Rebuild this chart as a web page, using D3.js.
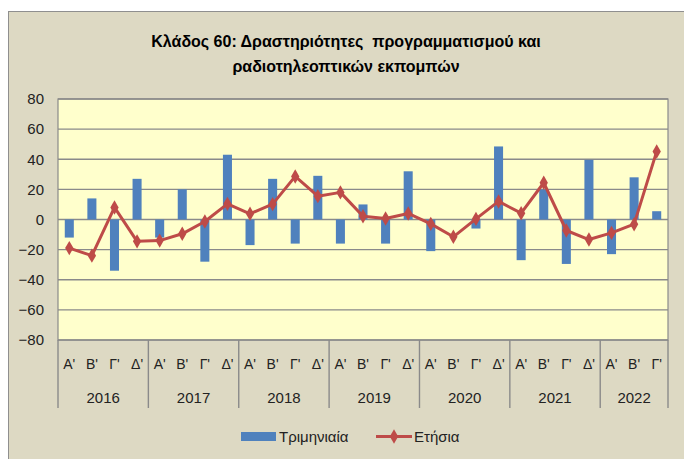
<!DOCTYPE html>
<html>
<head>
<meta charset="utf-8">
<script src="https://cdn.jsdelivr.net/npm/d3@7"></script>
<style>
  body { margin: 0; background: #fff; }
  svg { display: block; font-family: "Liberation Sans", Arial, sans-serif; }
</style>
</head>
<body>
<svg id="chart" width="684" height="459"></svg>
<script>
// Κλάδος 60 - τριμηνιαία και ετήσια μεταβολή (%)
const years = [2016, 2017, 2018, 2019, 2020, 2021, 2022];
const quartersPerYear = [4, 4, 4, 4, 4, 4, 3];
const quarterNames = ["Α'", "Β'", "Γ'", "Δ'"];

const quarterly = [-12, 14, -34, 27, -12, 20, -28, 43, -17, 27, -16, 29,
                   -16, 10, -16, 32, -21, 0, -6, 48.5, -27, 20, -29.5, 39.6,
                   -23, 28, 5.5];
const annual = [-19, -24, 8, -14.5, -14, -9.5, -1.3, 10.4, 3.8, 10.2, 28.6, 15.5,
                18, 2.2, 0.7, 4, -2.9, -11.5, 0.4, 12, 4.2, 24.4, -7.3, -13.3,
                -8.9, -3.1, 45.2];
const yTicks = [80, 60, 40, 20, 0, -20, -40, -60, -80];

// κατηγορίες: ένα στοιχείο ανά τρίμηνο
const categories = [];
years.forEach((y, i) => {
    for (let q = 0; q < quartersPerYear[i]; q++) {
        categories.push({ id: y + '-' + q, year: y, q: quarterNames[q] });
    }
});

const svg = d3.select('#chart');
const plot = { left: 58, right: 668, top: 99, bottom: 340 };

// φόντο και πλαίσιο
svg.append('rect')
    .attr('x', 8.5).attr('y', 11.5)
    .attr('width', 700).attr('height', 470)
    .attr('fill', '#ddd9c3')
    .attr('stroke', '#8f8f8f')
    .attr('stroke-width', 1);

// τίτλος
const title = svg.append('text')
    .attr('text-anchor', 'middle')
    .attr('font-weight', 'bold')
    .attr('font-size', 16)
    .attr('fill', '#000');
title.append('tspan').attr('x', 346).attr('y', 47)
    .text('Κλάδος 60: Δραστηριότητες  προγραμματισμού και')
    .attr('xml:space', 'preserve');
title.append('tspan').attr('x', 346).attr('y', 72)
    .text('ραδιοτηλεοπτικών εκπομπών');

const x = d3.scaleBand()
    .domain(categories.map(d => d.id))
    .range([plot.left, plot.right])
    .padding(0);

const y = d3.scaleLinear()
    .domain([-80, 80])
    .range([plot.bottom, plot.top]);

svg.append('rect')
    .attr('x', plot.left).attr('y', plot.top)
    .attr('width', plot.right - plot.left)
    .attr('height', plot.bottom - plot.top)
    .attr('fill', '#ffffcc');

// γραμμές πλέγματος
svg.append('g')
    .selectAll('line')
    .data(yTicks)
    .enter()
    .append('line')
    .attr('x1', plot.left).attr('x2', plot.right)
    .attr('y1', d => y(d)).attr('y2', d => y(d))
    .attr('stroke', '#8a8a8a')
    .attr('stroke-width', 1.4);

// άξονας Υ
const yAxis = svg.append('g')
    .attr('transform', `translate(${plot.left},0)`)
    .call(d3.axisLeft(y).tickValues(yTicks).tickSize(0).tickPadding(14));
yAxis.select('.domain').remove();
yAxis.selectAll('text')
    .attr('font-size', 15)
    .attr('font-family', '"Liberation Sans", Arial, sans-serif')
    .attr('fill', '#222');

// ράβδοι τριμηνιαίας μεταβολής
const barW = x.bandwidth() * 0.4;
svg.append('g')
    .selectAll('rect')
    .data(categories)
    .enter()
    .append('rect')
    .attr('x', d => x(d.id) + (x.bandwidth() - barW) / 2)
    .attr('width', barW)
    .attr('y', (d, i) => y(Math.max(0, quarterly[i])))
    .attr('height', (d, i) => Math.abs(y(quarterly[i]) - y(0)))
    .attr('fill', '#4f81bd');

// ετήσια μεταβολή
const cx = d => x(d.id) + x.bandwidth() / 2;
const line = d3.line()
    .x(d => cx(d))
    .y((d, i) => y(annual[i]));
svg.append('path')
    .datum(categories)
    .attr('d', line)
    .attr('fill', 'none')
    .attr('stroke', '#be4b48')
    .attr('stroke-width', 3)
    .attr('stroke-linejoin', 'round');

const diamond = d3.symbol().type(d3.symbolDiamond).size(60);
svg.append('g')
    .selectAll('path')
    .data(categories)
    .enter()
    .append('path')
    .attr('d', diamond)
    .attr('transform', (d, i) => `translate(${cx(d)},${y(annual[i])})`)
    .attr('fill', '#be4b48');

// περίγραμμα περιοχής σχεδίασης
svg.append('rect')
    .attr('x', plot.left).attr('y', plot.top)
    .attr('width', plot.right - plot.left)
    .attr('height', plot.bottom - plot.top)
    .attr('fill', 'none')
    .attr('stroke', '#8a8a8a')
    .attr('stroke-width', 1.2);

// ετικέτες τριμήνων και ετών
const axisG = svg.append('g');
axisG.selectAll('text.q')
    .data(categories)
    .enter()
    .append('text')
    .attr('class', 'q')
    .attr('x', d => cx(d))
    .attr('y', 369)
    .attr('text-anchor', 'middle')
    .attr('font-size', 14)
    .attr('fill', '#222')
    .text(d => d.q);

let start = 0;
const bounds = [];
years.forEach((yr, i) => {
    const first = categories[start];
    const last = categories[start + quartersPerYear[i] - 1];
    bounds.push({ year: yr, x0: x(first.id), x1: x(last.id) + x.bandwidth() });
    start += quartersPerYear[i];
});

axisG.selectAll('text.yr')
    .data(bounds)
    .enter()
    .append('text')
    .attr('class', 'yr')
    .attr('x', d => (d.x0 + d.x1) / 2)
    .attr('y', 403)
    .attr('text-anchor', 'middle')
    .attr('font-size', 15)
    .attr('fill', '#222')
    .text(d => d.year);

const sepX = bounds.map(d => d.x0).concat([bounds[bounds.length - 1].x1]);
axisG.selectAll('line.sep')
    .data(sepX)
    .enter()
    .append('line')
    .attr('class', 'sep')
    .attr('x1', d => d).attr('x2', d => d)
    .attr('y1', plot.bottom).attr('y2', 408)
    .attr('stroke', '#8a8a8a')
    .attr('stroke-width', 1.4);

// υπόμνημα
const legend = svg.append('g').attr('font-size', 15).attr('fill', '#222');
legend.append('rect')
    .attr('x', 241).attr('y', 432)
    .attr('width', 35).attr('height', 9)
    .attr('fill', '#4f81bd');
legend.append('text').attr('x', 279).attr('y', 442).text('Τριμηνιαία');
legend.append('line')
    .attr('x1', 376).attr('x2', 412)
    .attr('y1', 436.5).attr('y2', 436.5)
    .attr('stroke', '#be4b48').attr('stroke-width', 3);
legend.append('path')
    .attr('d', diamond)
    .attr('transform', 'translate(394,436.5)')
    .attr('fill', '#be4b48');
legend.append('text').attr('x', 414).attr('y', 442).text('Ετήσια');
</script>
</body>
</html>
